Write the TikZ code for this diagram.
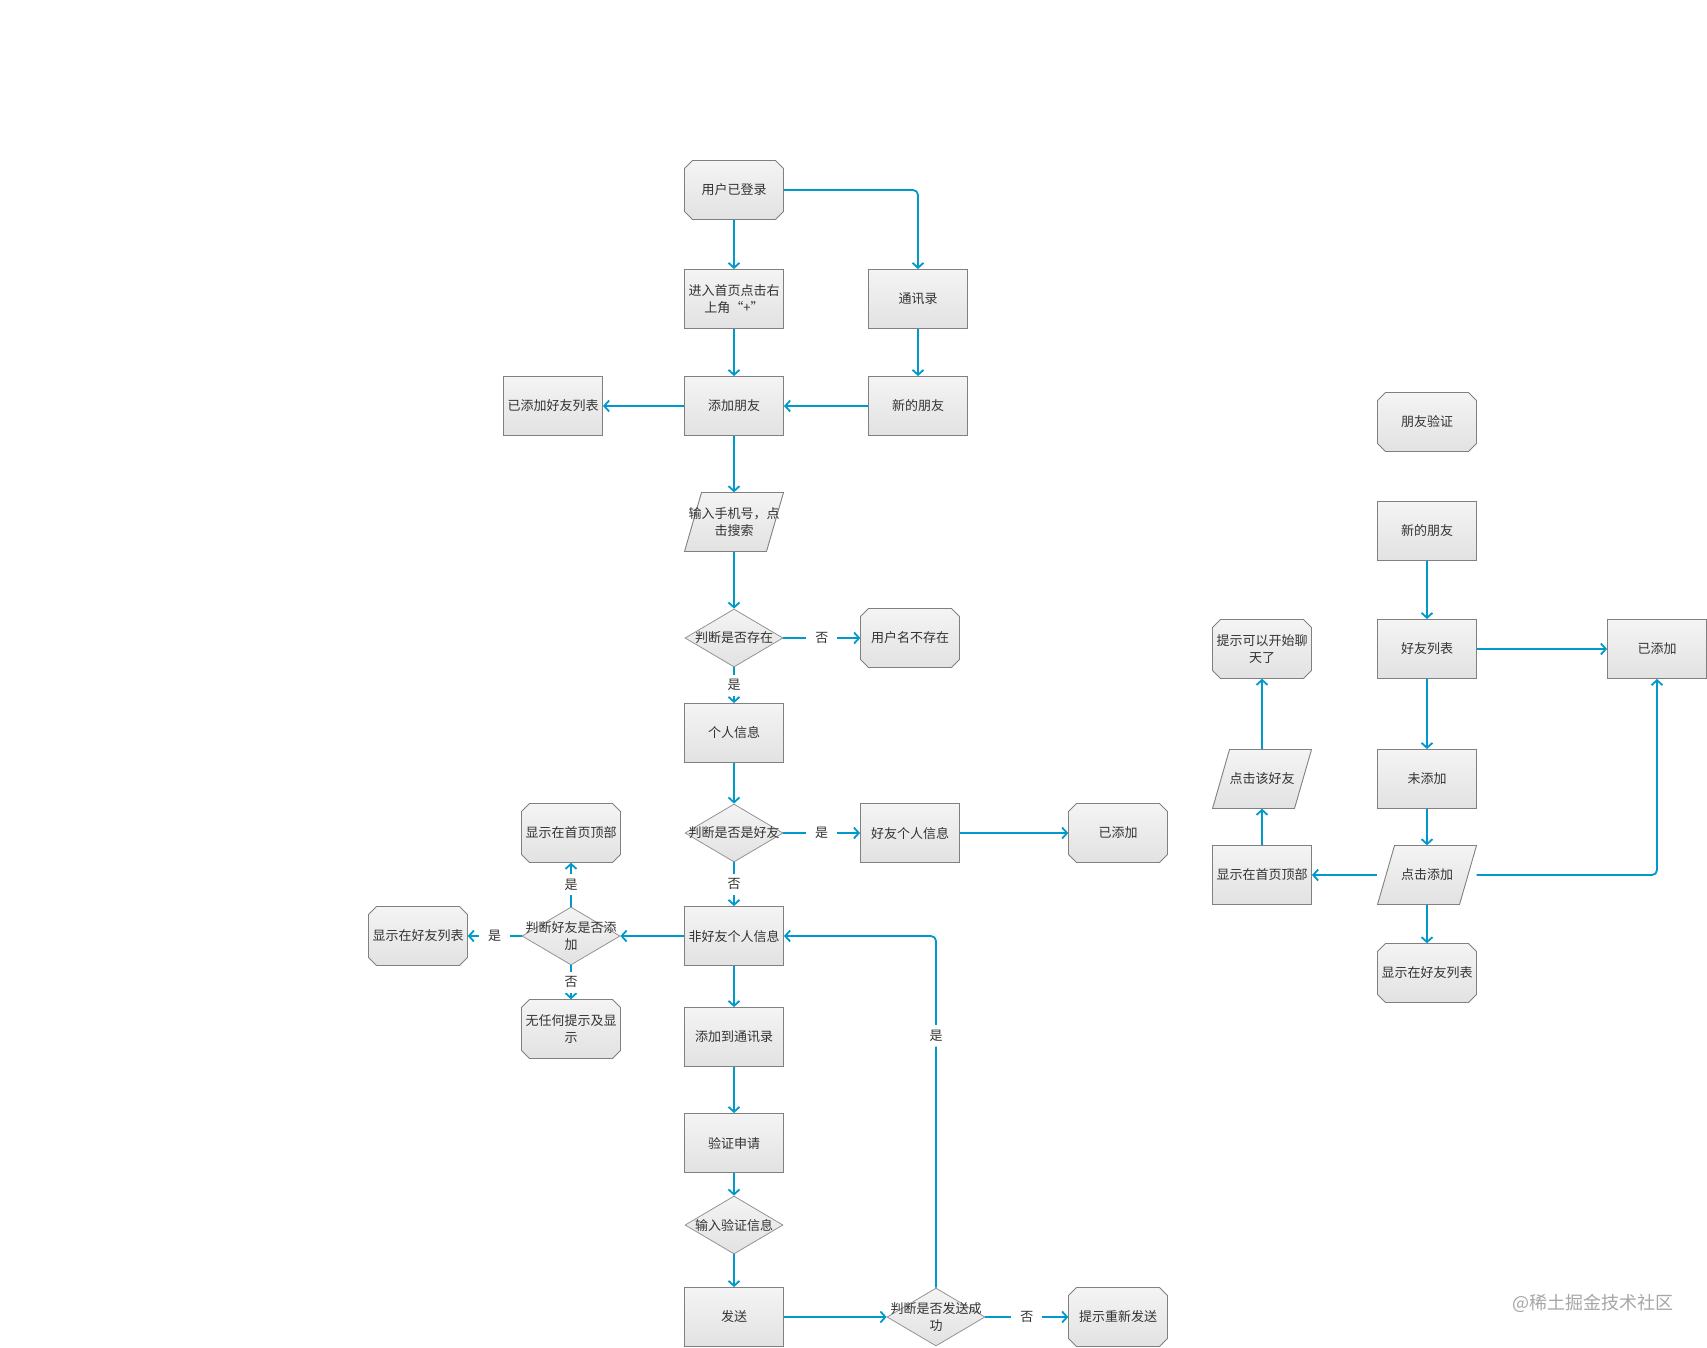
\documentclass[tikz,border=0pt]{standalone}
\usepackage{fontspec}
\setmainfont{Noto Sans CJK SC}
\usetikzlibrary{shapes.geometric,arrows.meta}
\definecolor{linec}{HTML}{0099CC}
\definecolor{bordc}{HTML}{808080}
\definecolor{txtc}{HTML}{333333}
\definecolor{topc}{HTML}{F4F4F4}
\definecolor{botc}{HTML}{E2E2E2}
\newcommand\fs{\fontsize{13}{16.5}\selectfont}
\newcommand\parabg[2]{\path[shapebg, shift={(#1,#2)}] (-49.5,29.5) -- (-32.5,-29.5) -- (49.5,-29.5) -- (32.5,29.5) -- cycle;}
\newcommand\octbg[2]{\path[shapebg, shift={(#1,#2)}] (-41.5,-29.5) -- (41.5,-29.5) -- (49.5,-21.5) -- (49.5,21.5) -- (41.5,29.5) -- (-41.5,29.5) -- (-49.5,21.5) -- (-49.5,-21.5) -- cycle;}
\tikzset{
  shapebg/.style={draw=bordc, line width=0.9pt, top color=topc, bottom color=botc},
  box/.style={rectangle, draw=bordc, line width=0.9pt, top color=topc, bottom color=botc,
    minimum width=99pt, minimum height=59pt, inner sep=2pt, align=center, text=txtc, font=\fs},
  dia/.style={diamond, draw=bordc!85, line width=0.8pt, top color=topc, bottom color=botc,
    minimum width=98pt, minimum height=58pt, inner sep=0pt},
  dtext/.style={text=txtc, font=\fs, align=center, inner sep=0pt},
  shtext/.style={rectangle, minimum width=99pt, minimum height=59pt, inner sep=2pt, align=center, text=txtc, font=\fs},
  conn/.style={draw=linec, line width=1.8pt, -{Straight Barb[length=5pt,width=11pt]}},
  lbl/.style={fill=white, text=txtc, font=\fs, inner xsep=9pt, inner ysep=5pt},
  wm/.style={text=black!35, font=\fontsize{18}{20}\selectfont},
}
\begin{document}
\begin{tikzpicture}[x=1pt, y=-1pt]
\useasboundingbox (0,0) rectangle (1707,1347);
% ---------- left / main column ----------
\octbg{734}{190}
\node[shtext] (login) at (734,190) {用户已登录};
\node[box] (enter) at (734,299) {进入首页点击右\\上角“+”};
\node[box] (txl) at (918,299) {通讯录};
\node[box] (add) at (734,406) {添加朋友};
\node[box] (addedlist) at (553,406) {已添加好友列表};
\node[box] (newf) at (918,406) {新的朋友};
\parabg{734}{522}
\node[shtext] (search) at (734,522) {输入手机号，点\\击搜索};
\node[dia, label={[dtext]center:判断是否存在}] (exist) at (734,638) {};
\octbg{910}{638}
\node[shtext] (noexist) at (910,638) {用户名不存在};
\node[box] (info) at (734,733) {个人信息};
\node[dia, label={[dtext]center:判断是否是好友}] (isf) at (734,833) {};
\node[box] (finfo) at (910,833) {好友个人信息};
\octbg{1118}{833}
\node[shtext] (added1) at (1118,833) {已添加};
\node[box] (nfinfo) at (734,936) {非好友个人信息};
\node[dia, label={[dtext]center:{判断好友是否添\\加}}] (isadd) at (571,936) {};
\octbg{571}{833}
\node[shtext] (top1) at (571,833) {显示在首页顶部};
\octbg{418}{936}
\node[shtext] (flist1) at (418,936) {显示在好友列表};
\octbg{571}{1029}
\node[shtext] (none) at (571,1029) {无任何提示及显\\示};
\node[box] (toc) at (734,1037) {添加到通讯录};
\node[box] (verify) at (734,1143) {验证申请};
\node[dia, label={[dtext]center:输入验证信息}] (inputv) at (734,1225) {};
\node[box] (send) at (734,1317) {发送};
\node[dia, label={[dtext]center:{判断是否发送成\\功}}] (ok) at (936,1317) {};
\octbg{1118}{1317}
\node[shtext] (resend) at (1118,1317) {提示重新发送};
% ---------- right column ----------
\octbg{1427}{422}
\node[shtext] (fv) at (1427,422) {朋友验证};
\node[box] (newf2) at (1427,531) {新的朋友};
\node[box] (flist) at (1427,649) {好友列表};
\octbg{1262}{649}
\node[shtext] (chat) at (1262,649) {提示可以开始聊\\天了};
\node[box] (added2) at (1657,649) {已添加};
\parabg{1262}{779}
\node[shtext] (clickf) at (1262,779) {点击该好友};
\node[box] (notadd) at (1427,779) {未添加};
\node[box] (top2) at (1262,875) {显示在首页顶部};
\parabg{1427}{875}
\node[shtext] (clickadd) at (1427,875) {点击添加};
\octbg{1427}{973}
\node[shtext] (flist2) at (1427,973) {显示在好友列表};
% ---------- connectors ----------
\draw[conn] (login) -- (enter);
\draw[conn, rounded corners=5pt] (login.east) -| (txl.north);
\draw[conn] (enter) -- (add);
\draw[conn] (txl) -- (newf);
\draw[conn] (newf) -- (add);
\draw[conn] (add) -- (addedlist);
\draw[conn] (add) -- (search);
\draw[conn] (search) -- (exist.north);
\draw[conn] (exist.east) -- node[lbl] (l1) {否} (noexist.west);
\draw[conn] (exist.south) -- node[lbl] (l2) {是} (info.north);
\draw[conn] (info) -- (isf.north);
\draw[conn] (isf.east) -- node[lbl] (l3) {是} (finfo.west);
\draw[conn] (finfo) -- (added1);
\draw[conn] (isf.south) -- node[lbl] (l4) {否} (nfinfo.north);
\draw[conn] (nfinfo.west) -- (isadd.east);
\draw[conn] (isadd.north) -- node[lbl] (l5) {是} (top1.south);
\draw[conn] (isadd.west) -- node[lbl] (l6) {是} (flist1.east);
\draw[conn] (isadd.south) -- node[lbl] (l7) {否} (none.north);
\draw[conn] (nfinfo) -- (toc);
\draw[conn] (toc) -- (verify);
\draw[conn] (verify) -- (inputv.north);
\draw[conn] (inputv.south) -- (send.north);
\draw[conn] (send.east) -- (ok.west);
\draw[conn] (ok.east) -- node[lbl] (l8) {否} (resend.west);
\draw[conn, rounded corners=5pt] (ok.north) -- node[lbl, pos=0.716] (l9) {是} (ok.north |- nfinfo.east) -- (nfinfo.east);
% right
\draw[conn] (newf2) -- (flist);
\draw[conn] (flist) -- (added2);
\draw[conn] (flist) -- (notadd);
\draw[conn] (notadd) -- (clickadd);
\draw[conn] (clickadd.west) -- (top2.east);
\draw[conn] (clickadd.south) -- (flist2.north);
\draw[conn, rounded corners=5pt] (clickadd.east) -| (added2.south);
\draw[conn] (top2.north) -- (clickf.south);
\draw[conn] (clickf.north) -- (chat.south);
% watermark
\node[wm] (wmark) at (1593,1303) {@稀土掘金技术社区};
\end{tikzpicture}
\end{document}
